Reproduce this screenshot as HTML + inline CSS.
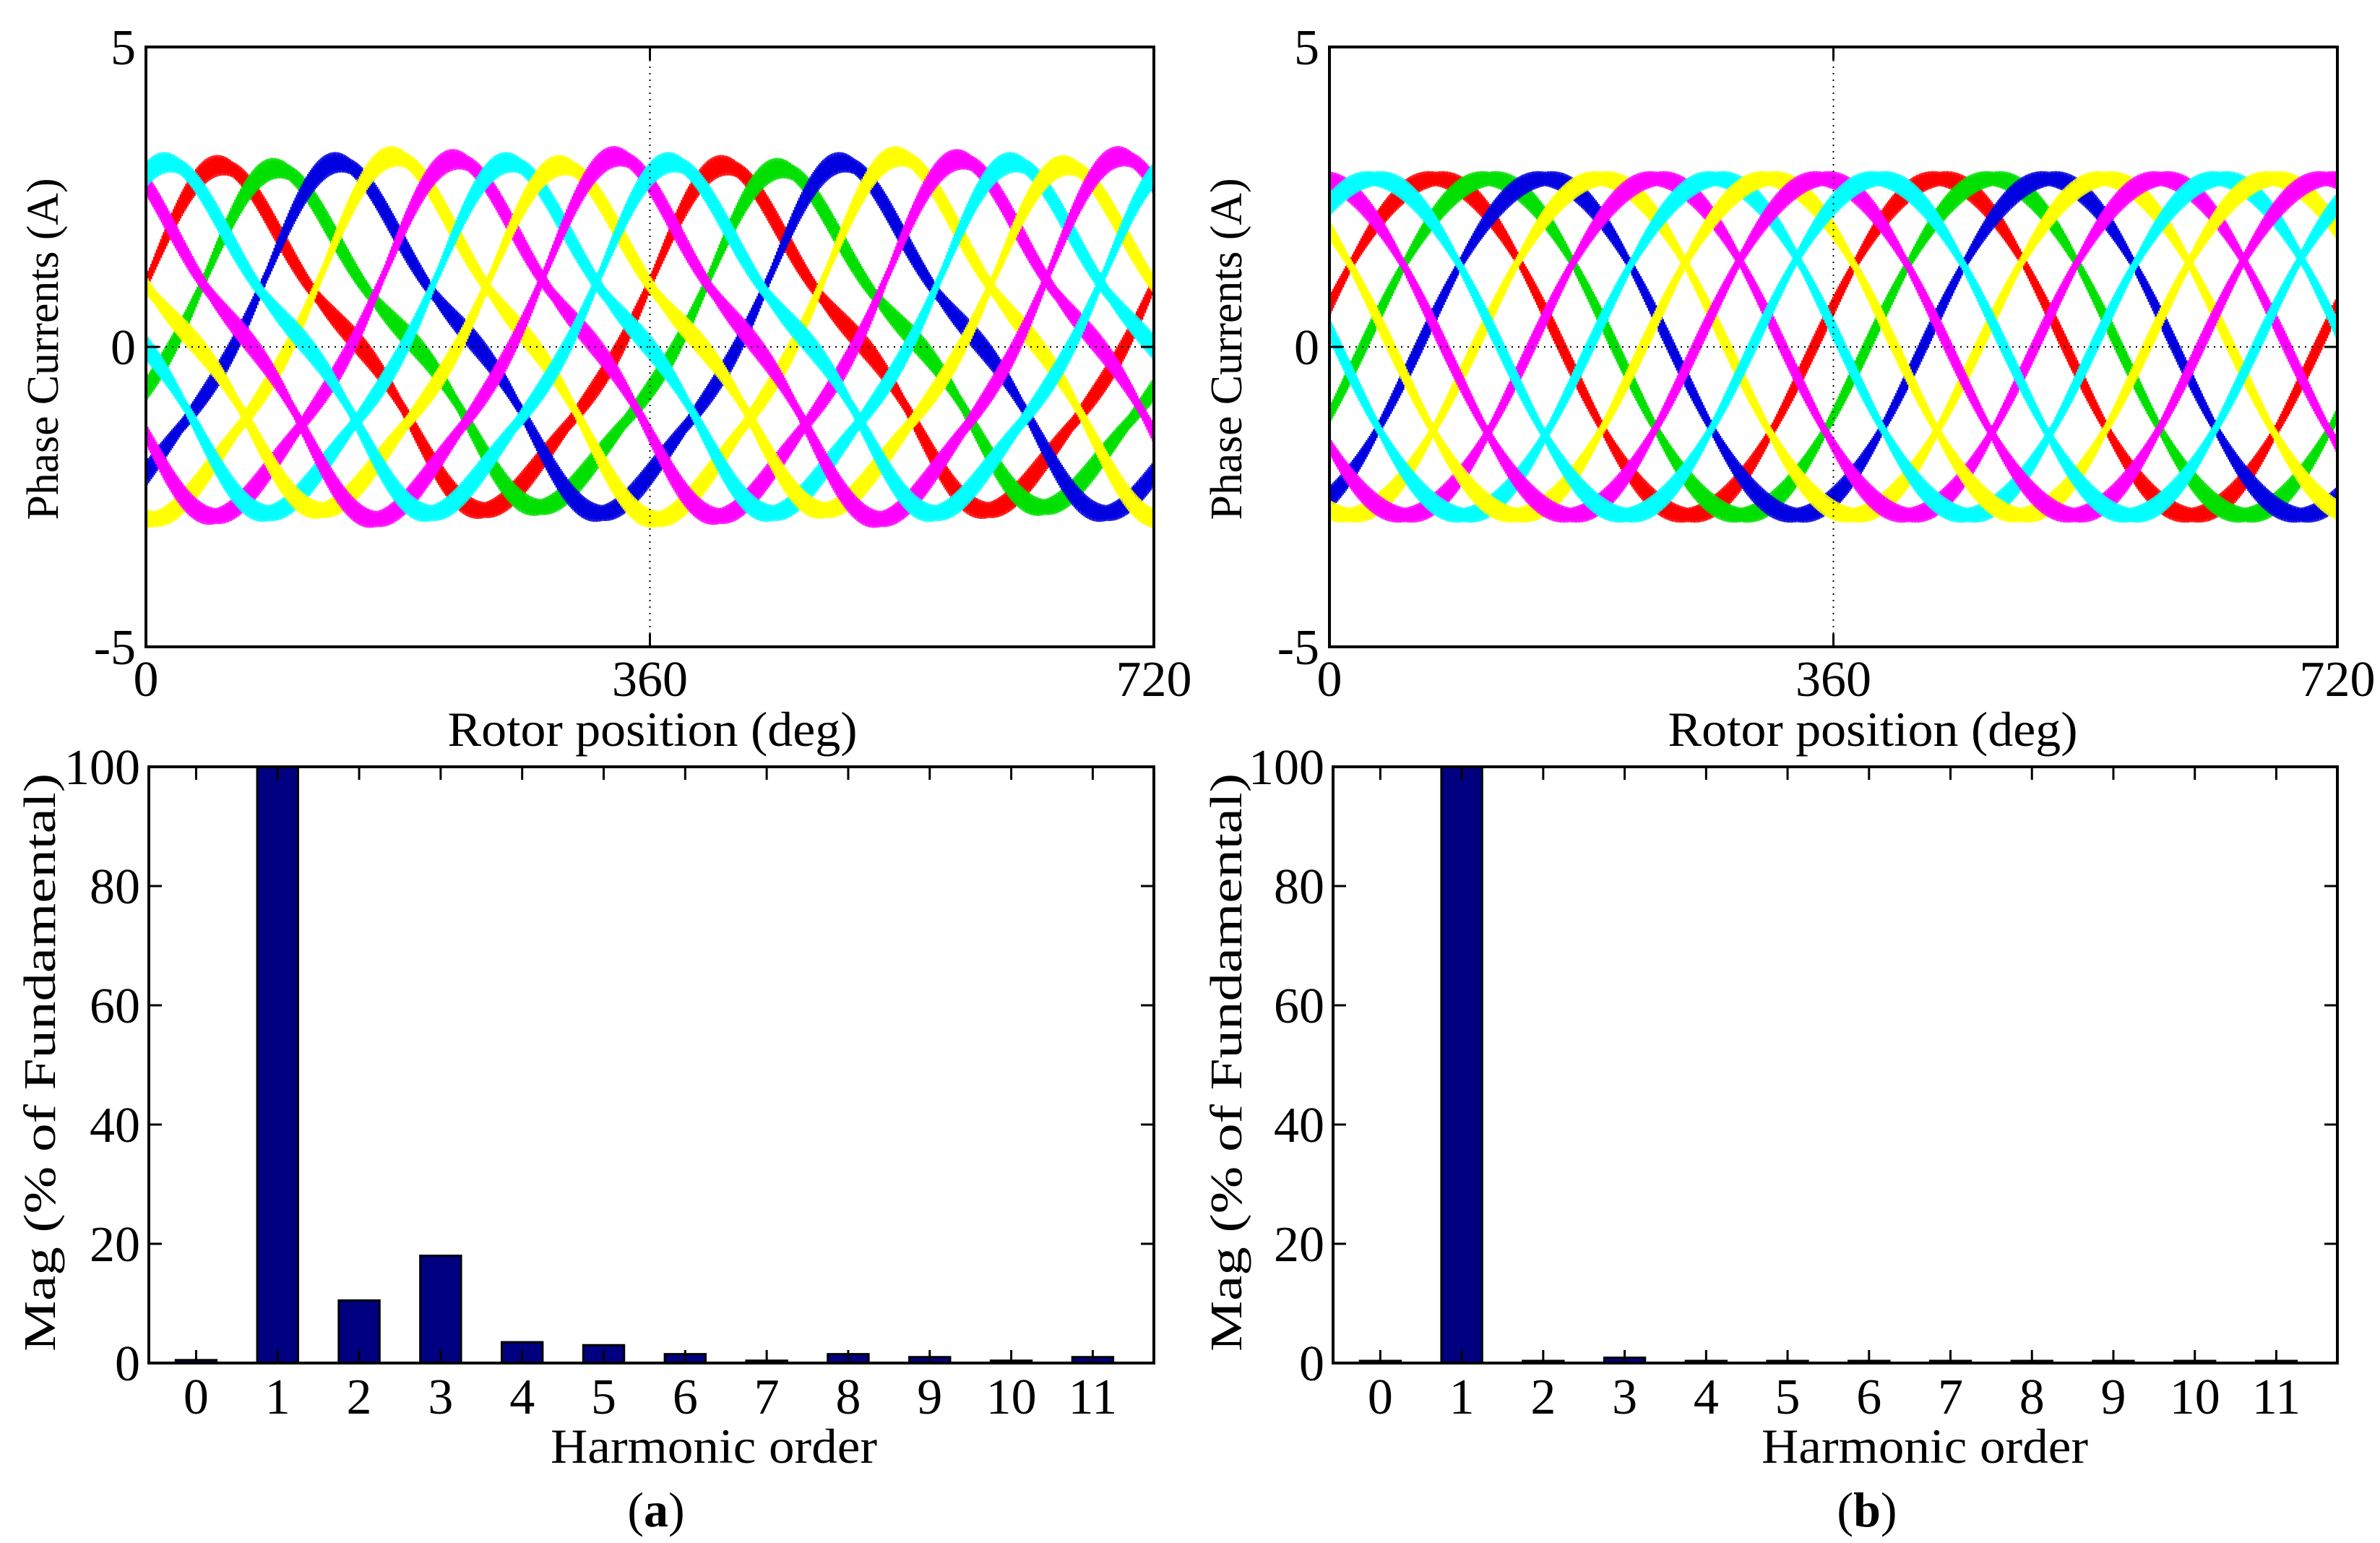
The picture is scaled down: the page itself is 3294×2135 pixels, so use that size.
<!DOCTYPE html>
<html><head><meta charset="utf-8"><style>
html,body{margin:0;padding:0;background:#fff;}
svg, svg text{font-family:"Liberation Serif","Times New Roman",Times,serif;}
</style></head><body>
<svg id="fig" width="3294" height="2130" viewBox="0 0 3294 2130" xmlns="http://www.w3.org/2000/svg" font-family="Liberation Serif, serif"></svg>
<script>
// ---- data ----
const harmonicCategories = [0,1,2,3,4,5,6,7,8,9,10,11];
const harmonicsA = [0.5,100,10.5,18,3.5,3,1.5,0.4,1.5,1,0.4,1];
const harmonicsB = [0.3,100,0.3,0.9,0.3,0.3,0.3,0.3,0.3,0.3,0.3,0.3];
const barYTicks = [0,20,40,60,80,100];
const curXTicks = [0,360,720];
const curYTicks = [-5,0,5];
const phaseColors = ['#ff0000','#00e000','#0000e0','#ffff00','#ff00ff','#00ffff','#ffff00','#ff00ff','#00ffff'];
const phasePeaksA = [62,102,146,186,230,268,306,345,384];
const phasePeaksB = [76,114,154,194,234,276,314,352,392];
const ampA = [2.6,2.55,2.65,2.75,2.7,2.65,2.6,2.75,2.65];
const ampB = [2.8,2.8,2.8,2.8,2.8,2.8,2.8,2.8,2.8];
const rippleA = 0.22, rippleB = 0.2;
const h2A = 0.10*2.2, h3A = 0.18*1.6;

const NS='http://www.w3.org/2000/svg';
const svg=document.getElementById('fig');
const FF='Liberation Serif, Times New Roman, serif';
function mk(tag,attrs,parent){const e=document.createElementNS(NS,tag);for(const k in attrs)e.setAttribute(k,attrs[k]);(parent||svg).appendChild(e);return e;}
function txt(s,attrs,parent){attrs['font-family']=FF;const e=mk('text',attrs,parent);e.textContent=s;return e;}

function currentPlot(px,name,peaks,amps,ripple,h2,h3,ylabX,xlabCx){
  const L=px,R=px+1395,T=65,B=895;
  const X=d=>L+(d/720)*(R-L), Y=v=>T+(5-v)/10*(B-T);
  const g=mk('g',{});
  
  
  for(let k=0;k<peaks.length;k++){
    let pts=[];
    for(let i=0;i<=1440;i++){
      const d=i*0.5;
      const th=(d-peaks[k])*Math.PI/180;
      let v=amps[k]*Math.cos(th)+h2*Math.cos(2*th+1.0)+h3*Math.cos(3*th+0.6);
      const r=ripple*(0.6+0.4*Math.abs(Math.sin(th*3)));
      v+=(i%2?1:-1)*r;
      pts.push(X(d).toFixed(1)+','+Y(v).toFixed(1));
    }
    const pl=mk('polyline',{points:pts.join(' '),fill:'none',stroke:phaseColors[k],'stroke-width':1.6},g);
    
    
  }
  mk('line',{x1:X(360),x2:X(360),y1:T,y2:B,stroke:'#000','stroke-width':2,'stroke-dasharray':'2,7'},g);
  mk('line',{x1:L,x2:R,y1:Y(0),y2:Y(0),stroke:'#000','stroke-width':2,'stroke-dasharray':'2,7'},g);
  mk('rect',{x:L,y:T,width:R-L,height:B-T,fill:'none',stroke:'#000','stroke-width':4},g);
  curXTicks.forEach(t=>{
    mk('line',{x1:X(t),x2:X(t),y1:B,y2:B-18,stroke:'#000','stroke-width':3},g);
    mk('line',{x1:X(t),x2:X(t),y1:T,y2:T+18,stroke:'#000','stroke-width':3},g);
    const lb=txt(String(t),{x:X(t),y:B+68,'font-size':70,'text-anchor':'middle'},g);
    
    
  });
  curYTicks.forEach(t=>{
    mk('line',{x1:L,x2:L+18,y1:Y(t),y2:Y(t),stroke:'#000','stroke-width':3},g);
    mk('line',{x1:R,x2:R-18,y1:Y(t),y2:Y(t),stroke:'#000','stroke-width':3},g);
    const lb=txt(String(t),{x:L-14,y:Y(t)+24,'font-size':70,'text-anchor':'end'},g);
    
    
  });
  const xl=txt('Rotor position (deg)',{x:xlabCx,y:1032,'font-size':68,'text-anchor':'middle',textLength:567,lengthAdjust:'spacingAndGlyphs'},g);
  
  
  const yl=txt('Phase Currents (A)',{x:0,y:0,'font-size':62,'text-anchor':'middle',textLength:473,lengthAdjust:'spacingAndGlyphs',transform:`translate(${ylabX},483) rotate(-90)`},g);
  
  
}

function barPlot(L,R,name,vals,ylabX,xlabCx,cap){
  const T=1061,B=1886,xmin=-0.58,xmax=11.75;
  const X=c=>L+(c-xmin)/(xmax-xmin)*(R-L), Y=v=>B-(v/100)*(B-T);
  const g=mk('g',{});
  
  
  const bw=(X(1)-X(0))*0.5;
  harmonicCategories.forEach((c,i)=>{
    const h=Math.max(B-Y(vals[i]),3);
    const b=mk('rect',{x:X(c)-bw/2,y:B-h,width:bw,height:h,fill:'#000080',stroke:'#000','stroke-width':3},g);
    
    
    mk('line',{x1:X(c),x2:X(c),y1:B,y2:B-18,stroke:'#000','stroke-width':3},g);
    mk('line',{x1:X(c),x2:X(c),y1:T,y2:T+18,stroke:'#000','stroke-width':3},g);
    const lb=txt(String(c),{x:X(c),y:B+70,'font-size':70,'text-anchor':'middle'},g);
    
    
  });
  mk('rect',{x:L,y:T,width:R-L,height:B-T,fill:'none',stroke:'#000','stroke-width':4},g);
  barYTicks.forEach(t=>{
    mk('line',{x1:L,x2:L+18,y1:Y(t),y2:Y(t),stroke:'#000','stroke-width':3},g);
    mk('line',{x1:R,x2:R-18,y1:Y(t),y2:Y(t),stroke:'#000','stroke-width':3},g);
    const lb=txt(String(t),{x:L-12,y:Y(t)+24,'font-size':70,'text-anchor':'end'},g);
    
    
  });
  const xl=txt('Harmonic order',{x:xlabCx,y:2024,'font-size':68,'text-anchor':'middle',textLength:452,lengthAdjust:'spacingAndGlyphs'},g);
  
  
  const yl=txt('Mag (% of Fundamental)',{x:0,y:0,'font-size':62,'text-anchor':'middle',textLength:800,lengthAdjust:'spacingAndGlyphs',transform:`translate(${ylabX},1470) rotate(-90)`},g);
  
  
  const cp=mk('text',{x:xlabCx-80,y:2112,'font-size':68,'text-anchor':'middle','font-family':FF},g);
  cp.innerHTML='(<tspan font-weight="bold">'+cap+'</tspan>)';
  
  
}

currentPlot(202,'phase-currents-plot-a',phasePeaksA,ampA,rippleA,h2A,h3A,80,903);
currentPlot(1840,'phase-currents-plot-b',phasePeaksB,ampB,rippleB,0,0,1718,2592);
barPlot(206,1597,'harmonic-spectrum-a',harmonicsA,76,988,'a');
barPlot(1845,3235,'harmonic-spectrum-b',harmonicsB,1718,2664,'b');
</script>
</body></html>
